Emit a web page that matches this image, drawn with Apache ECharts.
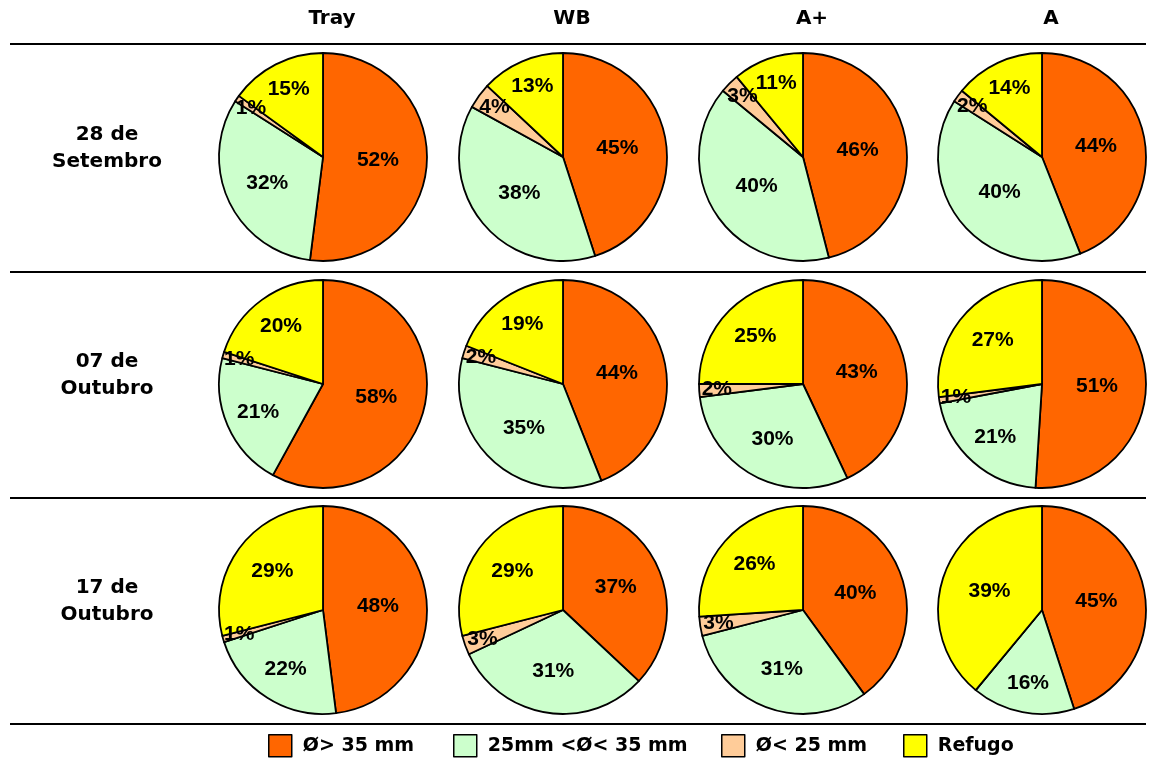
<!DOCTYPE html>
<html>
<head>
<meta charset="utf-8">
<script src="https://cdn.jsdelivr.net/npm/echarts@6/dist/echarts.min.js"></script>
<style>
html,body{margin:0;padding:0;background:#fff;}
#chart{width:1154px;height:758px;}
</style>
</head>
<body>
<div id="chart"></div>
<script>
// ---------- DATA ----------
const categories = ['Ø> 35 mm', '25mm <Ø< 35 mm', 'Ø< 25 mm', 'Refugo'];
const treatments = ['Tray', 'WB', 'A+', 'A'];
const dates = ['28 de\nSetembro', '07 de\nOutubro', '17 de\nOutubro'];
// percentages per treatment (Tray, WB, A+, A), in category order
const values28Set = [[52, 32, 1, 15], [45, 38, 4, 13], [46, 40, 3, 11], [44, 40, 2, 14]];
const values07Out = [[58, 21, 1, 20], [44, 35, 2, 19], [43, 30, 2, 25], [51, 21, 1, 27]];
const values17Out = [[48, 22, 1, 29], [37, 31, 3, 29], [40, 31, 3, 26], [45, 16, 0, 39]];
const valuesByDate = [values28Set, values07Out, values17Out];

// ---------- LAYOUT / STYLE ----------
const colors = ['#FF6600', '#CCFFCC', '#FFCC99', '#FFFF00'];
const colCenterX = [323, 563, 803, 1042];
const rowCenterY = [157, 384, 610];
const pieRadius = 104;
const headerY = 19;
const rowLabelX = 107;
const rowLabelOffset = -9;
const ruleY = [44, 272, 498, 724];
const legendLeft = [268, 453, 721, 903];
const boldFont = '"DejaVu Sans", Verdana, sans-serif';
const labelFont = '"Liberation Sans", Arial, sans-serif';

const chart = echarts.init(document.getElementById('chart'), null, {renderer: 'canvas'});

const series = [];
valuesByDate.forEach((rowVals, r) => {
  rowVals.forEach((vals, c) => {
    const cx = colCenterX[c], cy = rowCenterY[r];
    series.push({
      type: 'pie',
      name: treatments[c] + ' ' + r,
      center: [cx, cy],
      radius: pieRadius,
      startAngle: 90,
      clockwise: true,
      silent: true,
      animation: false,
      data: vals.map((v, i) => ({name: categories[i], value: v, itemStyle: {color: colors[i]}})),
      itemStyle: {borderColor: '#000', borderWidth: 1.8},
      label: {
        show: true,
        position: 'inside',
        formatter: p => (p.value > 0 ? p.value + '%' : ''),
        fontFamily: labelFont,
        fontWeight: 'bold',
        fontSize: 21,
        color: '#000'
      },
      labelLine: {show: false},
      labelLayout: function (params) {
        const v = vals[params.dataIndex];
        const k = Math.max(0.5, 0.8 - 0.0075 * v);
        const lr = params.labelRect;
        const lx = lr.x + lr.width / 2, ly = lr.y + lr.height / 2;
        const f = 2 * k - 1;
        return {dx: (lx - cx) * f, dy: (ly - cy) * f};
      }
    });
  });
});

const graphics = [];
ruleY.forEach(y => {
  graphics.push({type: 'line', shape: {x1: 10, y1: y, x2: 1146, y2: y}, style: {stroke: '#000', lineWidth: 2}, silent: true});
});
treatments.forEach((t, c) => {
  graphics.push({type: 'text', x: colCenterX[c] + 9, y: headerY,
    style: {text: t, font: 'bold 20px ' + boldFont, fill: '#000', textAlign: 'center', textVerticalAlign: 'middle'}});
});
dates.forEach((d, r) => {
  graphics.push({type: 'text', x: rowLabelX, y: rowCenterY[r] + rowLabelOffset,
    style: {text: d, font: 'bold 20px ' + boldFont, fill: '#000', textAlign: 'center', textVerticalAlign: 'middle', lineHeight: 27}});
});

const legends = categories.map((name, i) => ({
  data: [name],
  left: legendLeft[i],
  top: 734,
  padding: 0,
  icon: 'rect',
  itemWidth: 23,
  itemHeight: 22,
  selectedMode: false,
  itemStyle: {borderColor: '#000', borderWidth: 1.5},
  textStyle: {fontFamily: boldFont, fontWeight: 'bold', fontSize: 19, color: '#000', padding: [0, 0, 0, 6]}
}));

chart.setOption({
  animation: false,
  backgroundColor: '#fff',
  legend: legends,
  series: series,
  graphic: graphics
});
</script>
</body>
</html>
